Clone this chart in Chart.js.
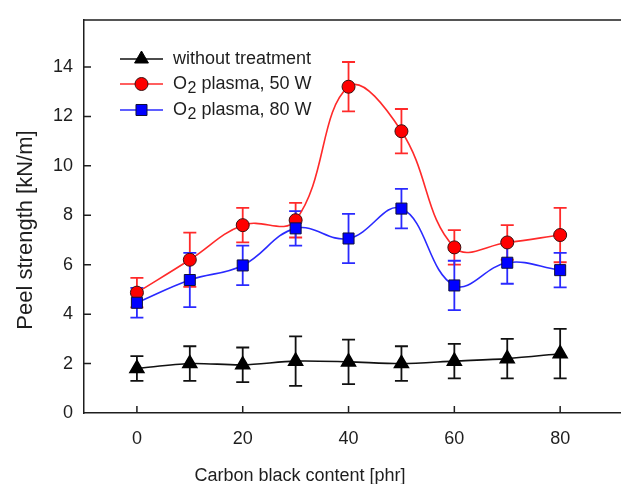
<!DOCTYPE html>
<html>
<head>
<meta charset="utf-8">
<script src="https://cdn.jsdelivr.net/npm/chart.js@4/dist/chart.umd.min.js"></script>
<style>
html,body{margin:0;padding:0;background:#fff;}
#wrap{width:621px;height:484px;position:relative;}
</style>
</head>
<body>
<div id="wrap"><canvas id="c" width="621" height="484"></canvas></div>
<script>
// ---- data ----
const carbonBlack = [0, 10, 20, 30, 40, 50, 60, 70, 80];
const withoutTreatment = [1.8, 2.0, 1.95, 2.1, 2.07, 2.0, 2.1, 2.2, 2.4];
const withoutTreatmentErr = [0.5, 0.7, 0.7, 1.0, 0.9, 0.7, 0.7, 0.8, 1.0];
const plasma50 = [4.87, 6.2, 7.6, 7.8, 13.2, 11.4, 6.7, 6.9, 7.2];
const plasma50Err = [0.6, 1.1, 0.7, 0.7, 1.0, 0.9, 0.7, 0.7, 1.1];
const plasma80 = [4.46, 5.38, 5.97, 7.47, 7.06, 8.27, 5.16, 6.08, 5.78];
const plasma80Err = [0.6, 1.1, 0.8, 0.7, 1.0, 0.8, 1.0, 0.85, 0.7];
const seriesLabels = ['without treatment', 'O\u2082 plasma, 50 W', 'O\u2082 plasma, 80 W'];
const xTitle = 'Carbon black content [phr]';
const yTitle = 'Peel strength [kN/m]';

// ---- styling ----
const FONT = '"Liberation Sans", Arial, Helvetica, sans-serif';
const INK = '#1e1e1e';
const errorSets = [withoutTreatmentErr, plasma50Err, plasma80Err];

function pts(vals) { return carbonBlack.map((x, i) => ({x: x, y: vals[i]})); }

const datasets = [
  {label: seriesLabels[0], data: pts(withoutTreatment), borderColor: '#111', backgroundColor: '#000',
   pointStyle: 'triangle', pointRadius: 8, pointBorderColor: '#000', pointBackgroundColor: '#000',
   borderWidth: 1.6, tension: 0.3, order: 2, errColor: '#111'},
  {label: seriesLabels[1], data: pts(plasma50), borderColor: '#ff2a2a', backgroundColor: '#ff0000',
   pointStyle: 'circle', pointRadius: 6.5, pointBorderColor: '#3a1010', pointBackgroundColor: '#ff0000',
   pointBorderWidth: 1, borderWidth: 1.6, tension: 0.4, order: 1, errColor: '#ff2a2a'},
  {label: seriesLabels[2], data: pts(plasma80), borderColor: '#2a2aff', backgroundColor: '#0000ff',
   pointStyle: 'rect', pointRadius: 7.8, pointBorderColor: '#10103a', pointBackgroundColor: '#0000ff',
   pointBorderWidth: 1, borderWidth: 1.6, tension: 0.4, order: 0, errColor: '#2a2aff'}
];

function drawMarker(ctx, style, r, x, y, fill, stroke) {
  ctx.save();
  ctx.fillStyle = fill; ctx.strokeStyle = stroke; ctx.lineWidth = 1;
  ctx.beginPath();
  if (style === 'circle') {
    ctx.arc(x, y, r, 0, Math.PI * 2);
  } else if (style === 'rect') {
    const s = r * Math.SQRT1_2;
    ctx.rect(x - s, y - s, 2 * s, 2 * s);
  } else {
    ctx.moveTo(x, y - r);
    ctx.lineTo(x + r * Math.sin(2 * Math.PI / 3), y + r / 2);
    ctx.lineTo(x - r * Math.sin(2 * Math.PI / 3), y + r / 2);
    ctx.closePath();
  }
  ctx.fill(); ctx.stroke();
  ctx.restore();
}

const errorBars = {
  id: 'errorBars',
  beforeDatasetsDraw(chart) {
    const {ctx, scales: {x, y}} = chart;
    chart.data.datasets.forEach((ds, di) => {
      const errs = errorSets[di];
      ctx.save();
      ctx.strokeStyle = ds.errColor; ctx.lineWidth = 1.8;
      ds.data.forEach((p, i) => {
        const px = x.getPixelForValue(p.x);
        const yt = y.getPixelForValue(p.y + errs[i]);
        const yb = y.getPixelForValue(p.y - errs[i]);
        ctx.beginPath();
        ctx.moveTo(px, yt); ctx.lineTo(px, yb);
        ctx.moveTo(px - 6.5, yt); ctx.lineTo(px + 6.5, yt);
        ctx.moveTo(px - 6.5, yb); ctx.lineTo(px + 6.5, yb);
        ctx.stroke();
      });
      ctx.restore();
    });
  }
};

const frame = {
  id: 'frame',
  beforeDatasetsDraw(chart) {
    const {ctx, chartArea: a, scales: {x, y}} = chart;
    ctx.save();
    ctx.strokeStyle = INK; ctx.lineWidth = 1.5;
    ctx.beginPath();
    ctx.moveTo(a.left, a.top); ctx.lineTo(a.right, a.top);
    x.ticks.forEach(t => { const px = x.getPixelForValue(t.value); ctx.moveTo(px, a.bottom); ctx.lineTo(px, a.bottom - 7); });
    y.ticks.forEach(t => { if (t.value === 0) return; const py = y.getPixelForValue(t.value); ctx.moveTo(a.left, py); ctx.lineTo(a.left + 7, py); });
    ctx.stroke();
    ctx.restore();
  },
  afterDraw(chart) {
    const {ctx} = chart;
    ctx.save();
    ctx.fillStyle = INK;
    // axis titles
    ctx.font = '18px ' + FONT;
    ctx.textAlign = 'center'; ctx.textBaseline = 'alphabetic';
    ctx.fillText(xTitle, 300, 481);
    ctx.save();
    ctx.translate(26, 230); ctx.rotate(-Math.PI / 2);
    ctx.font = '22px ' + FONT;
    ctx.textBaseline = 'middle';
    ctx.fillText(yTitle, 0, 0);
    ctx.restore();
    // legend
    const rows = [59, 84, 110];
    chart.data.datasets.forEach((ds, i) => {
      const ry = rows[i];
      ctx.strokeStyle = ds.borderColor; ctx.lineWidth = 1.6;
      ctx.beginPath(); ctx.moveTo(120, ry); ctx.lineTo(163, ry); ctx.stroke();
      drawMarker(ctx, ds.pointStyle, ds.pointRadius, 141.5, ry, ds.pointBackgroundColor, ds.pointBorderColor);
      ctx.fillStyle = INK; ctx.textAlign = 'left'; ctx.textBaseline = 'middle';
      let tx = 173;
      const parts = ds.label.split('\u2082');
      if (parts.length === 2) {
        ctx.font = '18px ' + FONT; ctx.fillText(parts[0], tx, ry); tx += ctx.measureText(parts[0]).width;
        ctx.font = '16px ' + FONT; ctx.fillText('2', tx + 0.5, ry + 5); tx += ctx.measureText('2').width + 0.5;
        ctx.font = '18px ' + FONT; ctx.fillText(parts[1], tx, ry);
      } else {
        ctx.font = '18px ' + FONT; ctx.fillText(ds.label, tx, ry);
      }
    });
    ctx.restore();
  }
};

new Chart(document.getElementById('c'), {
  type: 'line',
  data: {datasets: datasets},
  options: {
    responsive: false,
    animation: false,
    devicePixelRatio: 1,
    layout: {autoPadding: false, padding: {top: 20, right: 0, left: 0, bottom: 0}},
    plugins: {legend: {display: false}, tooltip: {enabled: false}},
    elements: {line: {fill: false}},
    scales: {
      x: {
        type: 'linear', min: -10, max: 91.5,
        grid: {display: false, drawTicks: false},
        border: {display: true, color: INK, width: 1.5},
        ticks: {stepSize: 20, includeBounds: false, padding: 15, color: INK, font: {family: FONT, size: 18}},
        afterFit(s) { s.height = 71; s.paddingLeft = 0; s.paddingRight = 0; }
      },
      y: {
        type: 'linear', min: 0, max: 15.9,
        grid: {display: false, drawTicks: false},
        border: {display: true, color: INK, width: 1.5},
        ticks: {stepSize: 2, includeBounds: false, padding: 11, color: INK, font: {family: FONT, size: 18}},
        afterFit(s) { s.width = 84; s.paddingTop = 0; s.paddingBottom = 0; }
      }
    }
  },
  plugins: [errorBars, frame]
});
</script>
</body>
</html>
